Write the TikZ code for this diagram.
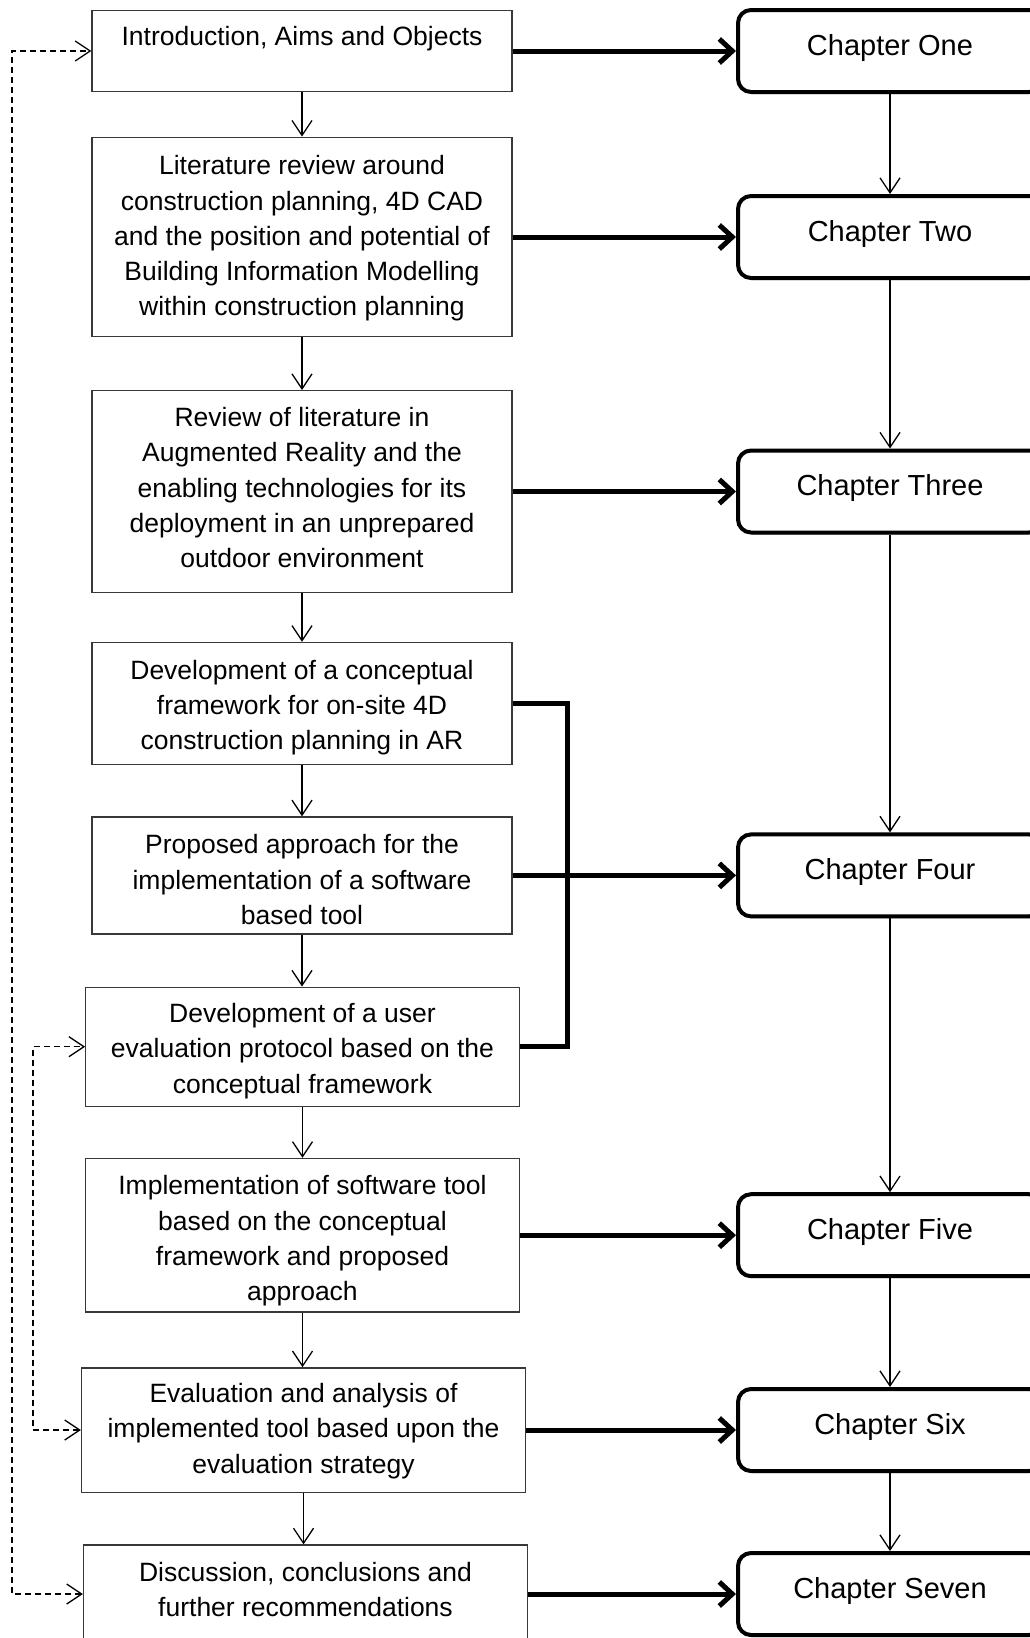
\documentclass[tikz,border=0pt]{standalone}
\usepackage{fontspec}
\setmainfont{Liberation Sans}
\usetikzlibrary{arrows.meta,shadows}
\begin{document}
\begin{tikzpicture}[x=1pt,y=-1pt,
  stage/.style={draw=black!78, line width=1.3pt, fill=white, inner sep=0pt},
  stagetext/.style={inner sep=0pt, align=center, font=\fontsize{26.5}{35.3}\selectfont},
  chapter/.style={draw=black, line width=4pt, rounded corners=13pt, fill=white,
    minimum width=304pt, minimum height=82pt, inner sep=0pt,
    font=\fontsize{29}{34}\selectfont, text height=20.8pt, text depth=12.8pt,
    drop shadow={shadow xshift=1.5pt, shadow yshift=-2pt, opacity=0.25, fill=black}},
  flow/.style={line width=1.3pt, -{Straight Barb[length=15pt,width=20pt]}},
  link/.style={line width=5pt, -{Straight Barb[length=13pt,width=24pt]}},
  bracket/.style={line width=5pt},
  loop/.style={line width=1.3pt, dash pattern=on 6pt off 4pt,
    {Straight Barb[length=15pt,width=20pt]}-{Straight Barb[length=15pt,width=20pt]}},
]
\useasboundingbox (0,0) rectangle (1030,1638);
\clip (0,0) rectangle (1030,1638);

% research stages: frames
\node[stage, minimum width=420pt, minimum height=81.5pt] (b1) at (302,51) {};
\node[stage, minimum width=420pt, minimum height=199.5pt] (b2) at (302,237) {};
\node[stage, minimum width=420pt, minimum height=201.6pt] (b3) at (302,491.5) {};
\node[stage, minimum width=420pt, minimum height=122.2pt] (b4) at (302,703.5) {};
\node[stage, minimum width=420pt, minimum height=117pt] (b5) at (302,875.4) {};
\node[stage, minimum width=433.5pt, minimum height=119.1pt] (b6) at (302.5,1046.7) {};
\node[stage, minimum width=433.5pt, minimum height=153.5pt] (b7) at (302.5,1235.2) {};
\node[stage, minimum width=444pt, minimum height=124.3pt] (b8) at (303.5,1430) {};
\node[stage, minimum width=444pt, minimum height=98pt] (b9) at (305.5,1594) {};

% research stages: texts
\node[stagetext, text height=19.4pt, text depth=30.4pt] (t1) at (b1.center)
  {Introduction, Aims and Objects};
\node[stagetext] (t2) at ([yshift=-1.5pt]b2.center)
  {Literature review around\\construction planning, 4D CAD\\and the position and potential of\\Building Information Modelling\\within construction planning};
\node[stagetext] (t3) at ([yshift=3.7pt]b3.center)
  {Review of literature in\\Augmented Reality and the\\enabling technologies for its\\deployment in an unprepared\\outdoor environment};
\node[stagetext] (t4) at ([yshift=-4.2pt]b4.center)
  {Development of a conceptual\\framework for on-site 4D\\construction planning in AR};
\node[stagetext] (t5) at ([yshift=-4.2pt]b5.center)
  {Proposed approach for the\\implementation of a software\\based tool};
\node[stagetext] (t6) at ([yshift=-4.2pt]b6.center)
  {Development of a user\\evaluation protocol based on the\\conceptual framework};
\node[stagetext] (t7) at ([yshift=-5.8pt]b7.center)
  {Implementation of software tool\\based on the conceptual\\framework and proposed\\approach};
\node[stagetext] (t8) at ([yshift=-1pt]b8.center)
  {Evaluation and analysis of\\implemented tool based upon the\\evaluation strategy};
\node[stagetext] (t9) at ([yshift=4.2pt]b9.center)
  {Discussion, conclusions and\\further recommendations};

% thesis chapters
\node[chapter] (c1) at (890,51) {Chapter One};
\node[chapter] (c2) at (890,237) {Chapter Two};
\node[chapter] (c3) at (890,491.5) {Chapter Three};
\node[chapter] (c4) at (890,875.4) {Chapter Four};
\node[chapter] (c5) at (890,1235.2) {Chapter Five};
\node[chapter] (c6) at (890,1430) {Chapter Six};
\node[chapter] (c7) at (890,1594) {Chapter Seven};

% sequence of stages
\foreach \a/\b in {b1/b2,b2/b3,b3/b4,b4/b5,b5/b6,b6/b7,b7/b8,b8/b9}
  \draw[flow] (\a.south) -- (\a.south |- \b.north);

% sequence of chapters
\foreach \a/\b in {c1/c2,c2/c3,c3/c4,c4/c5,c5/c6,c6/c7}
  \draw[flow] (\a.south) -- (\b.north);

% stages reported in each chapter
\draw[link] (b1.east) -- (c1.west);
\draw[link] (b2.east) -- (c2.west);
\draw[link] (b3.east) -- (c3.west);
\coordinate (br) at (567,0);
\draw[bracket] (b4.east) -- (b4.east -| br) -- (b6.east -| br) -- (b6.east);
\draw[link] (b5.east) -- (c4.west);
\draw[link] (b7.east) -- (c5.west);
\draw[link] (b8.east) -- (c6.west);
\draw[link] (b9.east) -- (c7.west);

% feedback loops
\coordinate (outer) at (12,0);
\coordinate (inner) at (33,0);
\draw[loop] (b9.west) -- (b9.west -| outer) -- (b1.west -| outer) -- (b1.west);
\draw[loop] (b8.west) -- (b8.west -| inner) -- (b6.west -| inner) -- (b6.west);
\end{tikzpicture}
\end{document}
